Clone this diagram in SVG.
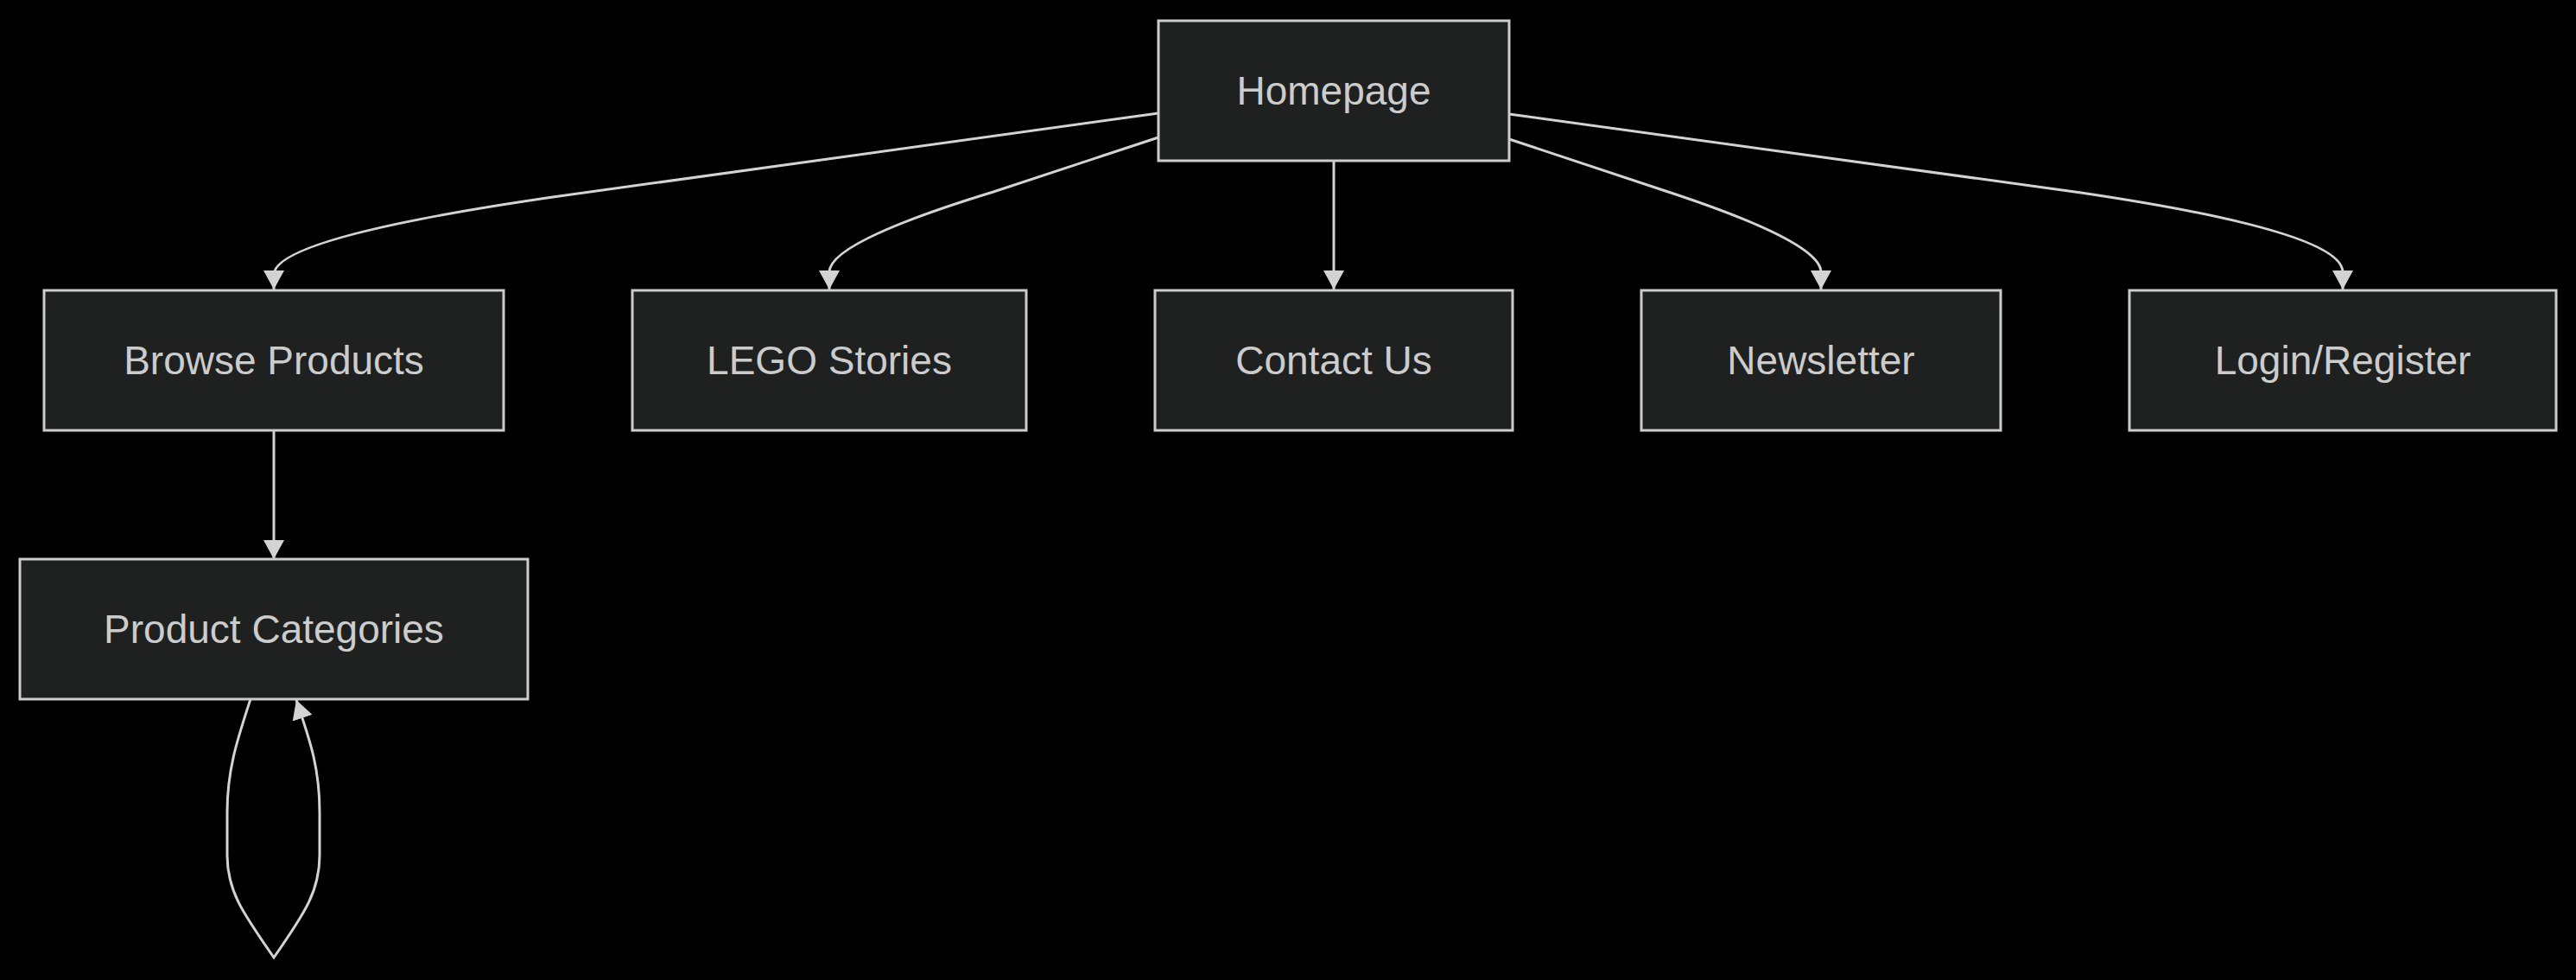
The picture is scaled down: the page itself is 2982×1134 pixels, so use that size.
<svg xmlns="http://www.w3.org/2000/svg" width="2982" height="1134" viewBox="0 0 2982 1134">
  <style>
    .node rect { fill: #1f2020; stroke: #cccccc; stroke-width: 3; }
    .node text { fill: #cccccc; font-family: "Liberation Sans", Arial, sans-serif; font-size: 46px; text-anchor: middle; }
    .edge { fill: none; stroke: #d3d3d3; stroke-width: 3; }
  </style>
  <defs>
    <marker id="arrow" viewBox="0 0 10 10" refX="10" refY="5" markerUnits="userSpaceOnUse" markerWidth="22" markerHeight="24" orient="auto" preserveAspectRatio="none">
      <path d="M0,0 L10,5 L0,10 z" fill="#d3d3d3"/>
    </marker>
  </defs>
  <rect x="0" y="0" width="2982" height="1134" fill="#000000"/>

  <g id="connectors">
    <path class="edge" d="M1341,131 L640,228 Q317,275 317,318 L317,335" marker-end="url(#arrow)"/>
    <path class="edge" d="M1341,159 L1150,222 Q960,280 960,315 L960,335" marker-end="url(#arrow)"/>
    <path class="edge" d="M1544,186 L1544,335" marker-end="url(#arrow)"/>
    <path class="edge" d="M1747,161 L1928,221 Q2108,280 2108,315 L2108,335" marker-end="url(#arrow)"/>
    <path class="edge" d="M1747,132 L2409,223 Q2712,268 2712,315 L2712,335" marker-end="url(#arrow)"/>
    <path class="edge" d="M317,498 L317,647" marker-end="url(#arrow)"/>
    <path class="edge" d="M290,809 C275,855 263,890 263,940 L263,990 C263,1030 280,1055 317,1108 C354,1055 370,1030 370,990 L370,940 C370,890 360,860 343,810" marker-end="url(#arrow)"/>
  </g>

  <g id="node-homepage" class="node">
    <rect x="1341" y="24" width="406" height="162"/>
    <text x="1544" y="121">Homepage</text>
  </g>
  <g id="node-browse" class="node">
    <rect x="51" y="336" width="532" height="162"/>
    <text x="317" y="433">Browse Products</text>
  </g>
  <g id="node-lego" class="node">
    <rect x="732" y="336" width="456" height="162"/>
    <text x="960" y="433">LEGO Stories</text>
  </g>
  <g id="node-contact" class="node">
    <rect x="1337" y="336" width="414" height="162"/>
    <text x="1544" y="433">Contact Us</text>
  </g>
  <g id="node-newsletter" class="node">
    <rect x="1900" y="336" width="416" height="162"/>
    <text x="2108" y="433">Newsletter</text>
  </g>
  <g id="node-login" class="node">
    <rect x="2465" y="336" width="494" height="162"/>
    <text x="2712" y="433">Login/Register</text>
  </g>
  <g id="node-categories" class="node">
    <rect x="23" y="647" width="588" height="162"/>
    <text x="317" y="744">Product Categories</text>
  </g>
</svg>
